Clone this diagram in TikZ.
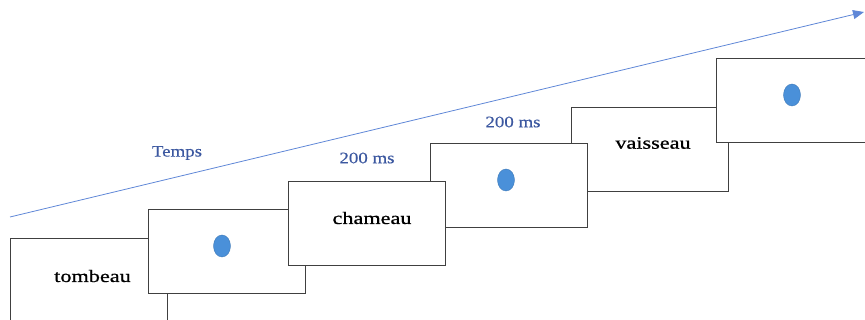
\documentclass[tikz,border=0pt]{standalone}
\usepackage{fontspec}
\setmainfont{Liberation Serif}
\newfontfamily\wordfont[FakeStretch=1.27,FakeBold=0.8]{Liberation Serif}
\newfontfamily\labfont[FakeStretch=1.18,FakeBold=0.4]{Liberation Serif}
\usetikzlibrary{arrows.meta,shapes.geometric}
\definecolor{boxline}{RGB}{64,64,64}
\definecolor{arrowblue}{RGB}{95,135,215}
\definecolor{labelblue}{RGB}{60,88,160}
\definecolor{dotblue}{RGB}{74,144,217}
\begin{document}
\begin{tikzpicture}[x=1pt,y=-1pt,
  screen/.style={draw=boxline, line width=1.1pt, fill=white, minimum width=157pt, minimum height=84pt, inner sep=0pt, anchor=north west},
  word/.style={font=\wordfont\fontsize{17.5}{20}\selectfont, inner sep=0pt, text=black},
  lab/.style={font=\labfont\fontsize{16}{18}\selectfont, inner sep=0pt, text=labelblue},
  fixdot/.style={ellipse, fill=dotblue, draw=dotblue!85!black, line width=0.4pt, minimum width=17pt, minimum height=22pt, inner sep=0pt},
  timeline/.style={draw=arrowblue, line width=0.8pt, -{Triangle[length=11pt,width=9pt]}}
]
\useasboundingbox (0,0) rectangle (865,320);
\clip (0,0) rectangle (865,320);

% time arrow
\coordinate (tstart) at (10,217);
\coordinate (tend) at (864,12);
\draw[timeline] (tstart) -- (tend);

% screens (drawn in stacking order)
\node[screen] (b1) at (10,238) {};
\node[screen] (b2) at (148,209) {};
\node[screen] (b5) at (571,107) {};
\node[screen] (b4) at (430,143) {};
\node[screen] (b3) at (288,181) {};
\node[screen] (b6) at (716,58) {};

% words
\node[word] (w1) at (92.5,276) {tombeau};
\node[word] (w3) at (372,218) {chameau};
\node[word] (w5) at (653,143) {vaisseau};

% fixation dots
\node[fixdot] (d2) at (222,246) {};
\node[fixdot] (d4) at (506,180) {};
\node[fixdot] (d6) at (792,95) {};

% labels
\node[lab] (temps) at (177,153) {Temps};
\node[lab] (ms1) at (367,158) {200 ms};
\node[lab] (ms2) at (513,122) {200 ms};
\end{tikzpicture}
\end{document}
